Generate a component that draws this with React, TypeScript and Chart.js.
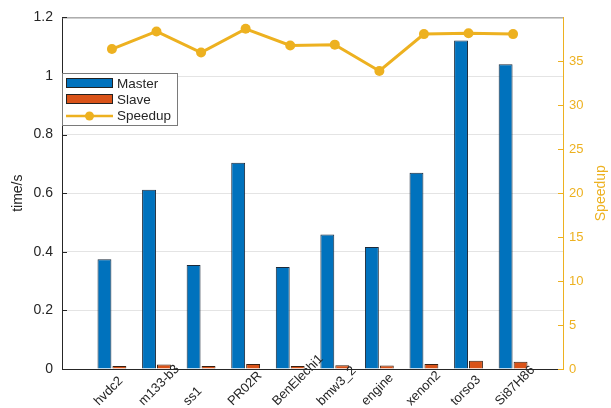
import React, { useEffect, useRef } from 'react';
import { Chart, registerables } from 'chart.js';

Chart.register(...registerables);

const categories = ['hvdc2', 'm133-b3', 'ss1', 'PR02R', 'BenElechi1', 'bmw3_2', 'engine', 'xenon2', 'torso3', 'Si87H86'];
const master = [0.375, 0.612, 0.355, 0.704, 0.348, 0.459, 0.416, 0.67, 1.121, 1.04];
const slave = [0.01, 0.015, 0.01, 0.017, 0.01, 0.013, 0.012, 0.017, 0.028, 0.025];
const speedup = [36.4, 38.4, 36.0, 38.7, 36.8, 36.9, 33.9, 38.1, 38.2, 38.1];
const leftTicks = [0, 0.2, 0.4, 0.6, 0.8, 1, 1.2];
const rightTicks = [0, 5, 10, 15, 20, 25, 30, 35];
const leftTitle = 'time/s';
const rightTitle = 'Speedup';

const BLUE = '#0072BD';
const ORANGE = '#D95319';
const YELLOW = '#EDB120';
const TEXT = '#262626';
const FONT = '"Liberation Sans", Arial, Helvetica, sans-serif';

const frame = {
  id: 'frame',
  afterDraw(chart: any) {
    const { ctx, chartArea, scales } = chart;
    const { left, right, top, bottom } = chartArea;
    ctx.save();
    // top border
    ctx.strokeStyle = '#8a8a8a';
    ctx.lineWidth = 1;
    ctx.beginPath();
    ctx.moveTo(left, top + 0.5);
    ctx.lineTo(right, top + 0.5);
    ctx.stroke();

    // inward tick marks
    ctx.strokeStyle = TEXT;
    leftTicks.forEach((v) => {
      const y = Math.round(scales.y.getPixelForValue(v)) + 0.5;
      ctx.beginPath();
      ctx.moveTo(left, y);
      ctx.lineTo(left + 5, y);
      ctx.stroke();
    });
    ctx.strokeStyle = YELLOW;
    rightTicks.forEach((v) => {
      const y = Math.round(scales.y1.getPixelForValue(v)) + 0.5;
      ctx.beginPath();
      ctx.moveTo(right, y);
      ctx.lineTo(right - 5, y);
      ctx.stroke();
    });

    // x labels, rotated, anchored at text start
    ctx.font = `13px ${FONT}`;
    ctx.fillStyle = TEXT;
    ctx.textAlign = 'left';
    ctx.textBaseline = 'alphabetic';
    categories.forEach((c, i) => {
      const x = scales.x.getPixelForValue(i + 1);
      ctx.save();
      ctx.translate(x - 13, bottom + 37);
      ctx.rotate(-Math.PI / 4);
      ctx.fillText(c, 0, 0);
      ctx.restore();
    });

    // axis titles
    const midY = (top + bottom) / 2;
    ctx.font = `14px ${FONT}`;
    ctx.textAlign = 'center';
    ctx.textBaseline = 'middle';
    ctx.save();
    ctx.translate(18, midY);
    ctx.rotate(-Math.PI / 2);
    ctx.fillStyle = TEXT;
    ctx.fillText(leftTitle, 0, 0);
    ctx.restore();
    ctx.save();
    ctx.translate(601, midY);
    ctx.rotate(-Math.PI / 2);
    ctx.fillStyle = YELLOW;
    ctx.fillText(rightTitle, 0, 0);
    ctx.restore();

    // legend
    const lx = left;
    const ly = 73;
    const lw = 115;
    const lh = 52;
    ctx.fillStyle = '#ffffff';
    ctx.fillRect(lx, ly, lw, lh);
    ctx.strokeStyle = '#7a7a7a';
    ctx.lineWidth = 1;
    ctx.strokeRect(lx + 0.5, ly + 0.5, lw, lh);

    const items = [
      { label: 'Master', type: 'bar', color: BLUE },
      { label: 'Slave', type: 'bar', color: ORANGE },
      { label: 'Speedup', type: 'line', color: YELLOW },
    ];
    ctx.font = `13.5px ${FONT}`;
    ctx.textAlign = 'left';
    ctx.textBaseline = 'middle';
    items.forEach((it, i) => {
      const cy = ly + 10 + i * 16;
      if (it.type === 'bar') {
        ctx.fillStyle = it.color;
        ctx.fillRect(lx + 4, cy - 5, 47, 10);
        ctx.strokeStyle = '#222';
        ctx.strokeRect(lx + 4.5, cy - 4.5, 46, 9);
      } else {
        ctx.strokeStyle = it.color;
        ctx.lineWidth = 2.5;
        ctx.beginPath();
        ctx.moveTo(lx + 4, cy + 1);
        ctx.lineTo(lx + 51, cy + 1);
        ctx.stroke();
        ctx.fillStyle = it.color;
        ctx.beginPath();
        ctx.arc(lx + 27.5, cy + 1, 4.5, 0, Math.PI * 2);
        ctx.fill();
        ctx.lineWidth = 1;
      }
      ctx.fillStyle = TEXT;
      ctx.fillText(it.label, lx + 55, cy + 1);
    });
    ctx.restore();
  },
};

export default function App() {
  const ref = useRef<HTMLCanvasElement | null>(null);

  useEffect(() => {
    if (!ref.current) return;
    const chart = new Chart(ref.current, {
      type: 'bar',
      data: {
        datasets: [
          {
            type: 'line',
            label: 'Speedup',
            data: speedup.map((v, i) => ({ x: i + 1, y: v })),
            yAxisID: 'y1',
            borderColor: YELLOW,
            backgroundColor: YELLOW,
            borderWidth: 3,
            pointRadius: 5,
            pointBackgroundColor: YELLOW,
            pointBorderWidth: 0,
            order: 0,
          } as any,
          {
            label: 'Master',
            data: master.map((v, i) => ({ x: i + 1, y: v })),
            backgroundColor: BLUE,
            borderColor: '#1c2a3a',
            borderWidth: 1,
            yAxisID: 'y',
            order: 1,
            categoryPercentage: 0.67,
            barPercentage: 0.93,
          },
          {
            label: 'Slave',
            data: slave.map((v, i) => ({ x: i + 1, y: v })),
            backgroundColor: ORANGE,
            borderColor: '#3a2010',
            borderWidth: 1,
            yAxisID: 'y',
            order: 1,
            categoryPercentage: 0.67,
            barPercentage: 0.93,
          },
        ],
      },
      options: {
        responsive: false,
        animation: false,
        layout: { padding: { top: 16, left: 0, right: 0, bottom: 0 } },
        plugins: { legend: { display: false }, tooltip: { enabled: false } },
        scales: {
          x: {
            type: 'linear',
            min: -0.12,
            max: 11.12,
            offset: false,
            grid: { display: false, drawTicks: false },
            border: { color: TEXT, width: 1 },
            afterBuildTicks: (s: any) => {
              s.ticks = categories.map((_, i) => ({ value: i + 1 }));
            },
            afterFit: (s: any) => {
              s.height = 39;
            },
            ticks: { display: false },
          },
          y: {
            type: 'linear',
            position: 'left',
            min: 0,
            max: 1.2,
            afterBuildTicks: (s: any) => {
              s.ticks = leftTicks.map((v) => ({ value: v }));
            },
            afterFit: (s: any) => {
              s.width = 62;
            },
            grid: { color: '#e4e4e4', drawTicks: false },
            border: { color: TEXT, width: 1 },
            ticks: {
              padding: 9,
              color: TEXT,
              font: { family: FONT, size: 14 },
              callback: (v: any) => String(Math.round(Number(v) * 10) / 10),
            },
          },
          y1: {
            type: 'linear',
            position: 'right',
            min: 0,
            max: 40,
            afterBuildTicks: (s: any) => {
              s.ticks = rightTicks.map((v) => ({ value: v }));
            },
            afterFit: (s: any) => {
              s.width = 48;
            },
            grid: { display: false, drawTicks: false },
            border: { color: YELLOW, width: 1 },
            ticks: {
              padding: 6,
              color: YELLOW,
              font: { family: FONT, size: 13 },
            },
          },
        },
      } as any,
      plugins: [frame],
    });
    return () => chart.destroy();
  }, []);

  return (
    <div style={{ position: 'fixed', left: 0, top: 0, width: 611, height: 408, background: '#fff' }}>
      <canvas ref={ref} width={611} height={408} style={{ display: 'block' }} />
    </div>
  );
}
